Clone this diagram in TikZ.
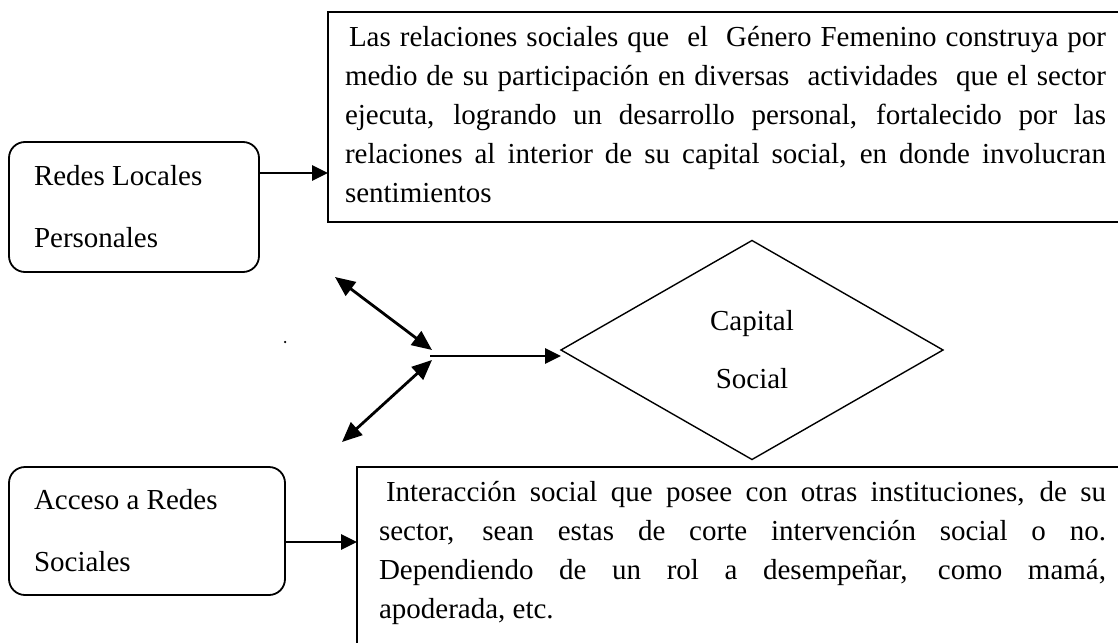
\documentclass[tikz,border=0pt]{standalone}
\usepackage{fontspec}
\setmainfont{Liberation Serif}
\usepackage{tikz}
\usetikzlibrary{positioning,arrows.meta,calc,shapes.geometric}

\begin{document}
\begin{tikzpicture}[x=1pt,y=-1pt,
    every node/.style={inner sep=0,outer sep=0},
    txt/.style={font=\fontsize{29}{39}\selectfont, align=justify, anchor=north west},
    sidebox/.style={draw, line width=1.8pt, rounded corners=16pt, align=left, inner xsep=25pt, font=\fontsize{29}{62}\selectfont, execute at begin node={\spaceskip=0pt\relax}},
    frame/.style={draw, anchor=north west},
    arr/.style={-{Triangle[length=16pt,width=15pt]}, line width=2.8pt},
    darr/.style={{Triangle[length=20pt,width=17pt]}-{Triangle[length=20pt,width=17pt]}, line width=2.8pt}]

    \useasboundingbox (0,0) rectangle (1118,642);
    \clip (0,0) rectangle (1118,642);

    \node[frame, line width=1.8pt, minimum width=802pt, minimum height=210pt] (tb) at (328,12) {};
    \node[txt, text width=761pt] (tt) at (345,19) {\strut\kern4pt Las relaciones sociales que\ \ el\ \ Género Femenino construya por\linebreak
        medio de su participación en diversas\ \ actividades\ \ que el sector\linebreak
        ejecuta, logrando un desarrollo personal, fortalecido por las\linebreak
        relaciones al interior de su capital social, en donde involucran\linebreak
        sentimientos};

    \node[sidebox, text width=200pt, minimum height=130pt] (rl) at (134,207) {Redes Locales\\Personales};
    \node[sidebox, text width=226pt, minimum height=128pt] (ar) at (147,531) {Acceso a Redes\\Sociales};

    \node[frame, line width=1.4pt, minimum width=780pt, minimum height=200pt] (bb) at (357,467) {};
    \node[txt, text width=727pt] (bt) at (379,474) {\strut\kern7pt Interacción social que posee con otras instituciones, de su\linebreak
        sector, sean estas de corte intervención social o no.\linebreak
        Dependiendo de un rol a desempeñar, como mamá,\linebreak
        apoderada, etc.};

    \node[diamond, draw, line width=1.4pt, minimum width=382pt, minimum height=219pt, align=center, font=\fontsize{29}{58}\selectfont] (cs) at (752,350) {Capital\\Social};

    \coordinate (u1) at (335,277);
    \coordinate (ju) at (432,350);
    \coordinate (jl) at (432,360);
    \coordinate (l1) at (342,442);
    \coordinate (junc) at (430,356);
    \node[circle, fill, minimum size=2.5pt] (pt) at (285,342) {};

    \draw[arr] ($(rl.north east)+(0,31)$) coordinate (s1) -- (s1 -| tb.west);
    \draw[arr] ($(ar.north east)+(0,75)$) coordinate (s2) -- (s2 -| bb.west);
    \draw[darr] (u1) -- (ju);
    \draw[darr] (jl) -- (l1);
    \draw[arr] (junc) -- (junc -| cs.west);
%    \draw (junc) -- (cs.west);

\end{tikzpicture}
\end{document}
